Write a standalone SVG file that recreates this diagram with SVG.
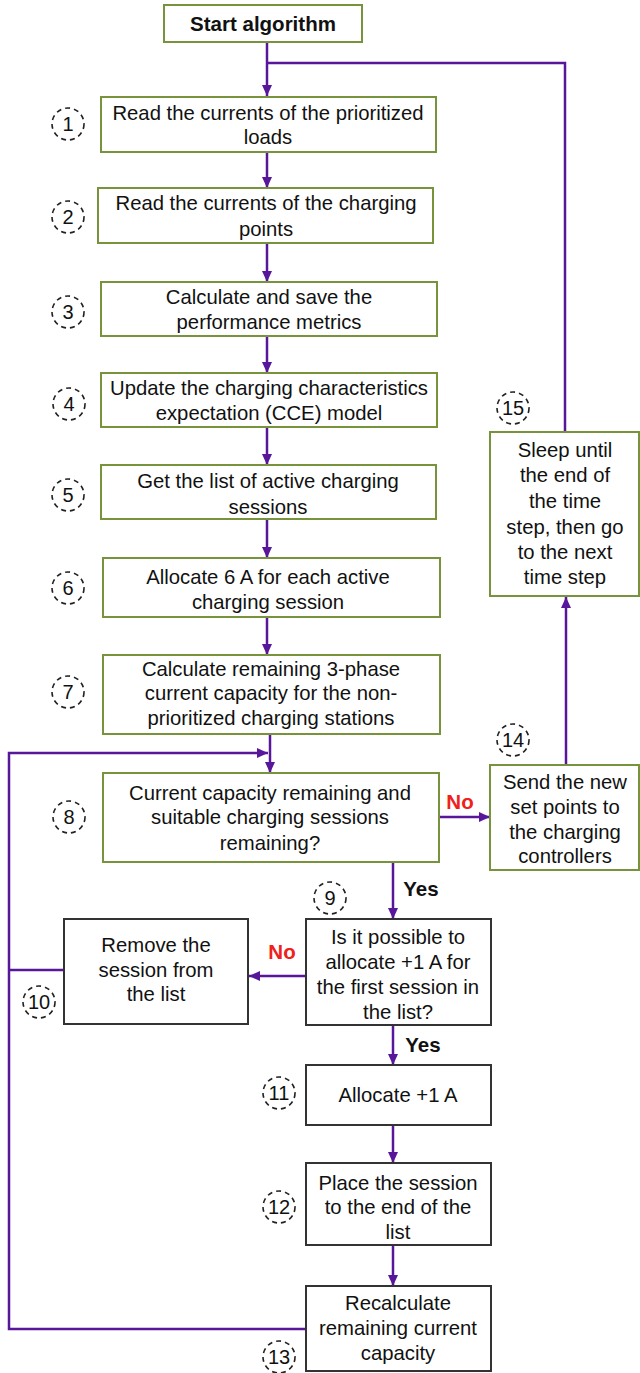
<svg xmlns="http://www.w3.org/2000/svg" width="640" height="1373" viewBox="0 0 640 1373">
<style>
.g{fill:#fff;stroke:#77933C;stroke-width:2}
.k{fill:#fff;stroke:#333;stroke-width:2}
.t{font-family:"Liberation Sans",Arial,sans-serif;font-size:20.3px;fill:#111;text-anchor:middle}
.b{font-family:"Liberation Sans",Arial,sans-serif;font-size:20.5px;font-weight:bold;fill:#111;text-anchor:middle}
.r{font-family:"Liberation Sans",Arial,sans-serif;font-size:20.5px;font-weight:bold;fill:#F0201A;text-anchor:middle}
.c{fill:none;stroke:#222;stroke-width:1.6;stroke-dasharray:5 4}
.n{font-family:"Liberation Sans",Arial,sans-serif;font-size:20px;fill:#111;text-anchor:middle}
.l{fill:none;stroke:#58179B;stroke-width:2.5}
.a{fill:none;stroke:#58179B;stroke-width:2.5;marker-end:url(#ah)}
</style>
<defs>
<marker id="ah" markerUnits="userSpaceOnUse" markerWidth="12" markerHeight="12" viewBox="0 0 12 12" refX="11" refY="6" orient="auto">
<path d="M0 1 L11 6 L0 11 Z" fill="#58179B"/>
</marker>
</defs>
<g id="connectors">
<path class="a" d="M267 42 V96"/>
<path class="l" d="M267 63 H565 V432"/>
<path class="a" d="M267 152 V188"/>
<path class="a" d="M267 243 V282"/>
<path class="a" d="M267 336 V373"/>
<path class="a" d="M267 427 V465"/>
<path class="a" d="M267 519 V558"/>
<path class="a" d="M267 617 V655"/>
<path class="a" d="M270 734 V773"/>
<path class="a" d="M306 1329 H9 V753 H268"/>
<path class="a" d="M439 817 H490"/>
<path class="a" d="M566 765 V597"/>
<path class="a" d="M393 862 V919"/>
<path class="a" d="M306 976 H249"/>
<path class="l" d="M64 970 H9"/>
<path class="a" d="M393 1025 V1065"/>
<path class="a" d="M393 1125 V1163"/>
<path class="a" d="M393 1245 V1286"/>
</g>
<g id="start">
<rect class="g" x="164" y="5" width="198" height="37"/>
<text class="b" x="263" y="31">Start algorithm</text>
</g>
<g id="n1">
<rect class="g" x="101" y="97" width="335" height="55"/>
<text class="t" x="268" y="120">Read the currents of the prioritized</text>
<text class="t" x="268" y="144">loads</text>
<circle class="c" cx="68" cy="124" r="16"/><text class="n" x="68" y="131">1</text>
</g>
<g id="n2">
<rect class="g" x="98" y="188" width="335" height="55"/>
<text class="t" x="266" y="210">Read the currents of the charging</text>
<text class="t" x="266" y="236">points</text>
<circle class="c" cx="68" cy="217" r="16"/><text class="n" x="68" y="224">2</text>
</g>
<g id="n3">
<rect class="g" x="101" y="282" width="336" height="54"/>
<text class="t" x="269" y="304">Calculate and save the</text>
<text class="t" x="269" y="329">performance metrics</text>
<circle class="c" cx="68" cy="312" r="16"/><text class="n" x="68" y="319">3</text>
</g>
<g id="n4">
<rect class="g" x="101" y="373" width="336" height="54"/>
<text class="t" x="269" y="395">Update the charging characteristics</text>
<text class="t" x="269" y="420">expectation (CCE) model</text>
<circle class="c" cx="69" cy="404" r="16"/><text class="n" x="69" y="411">4</text>
</g>
<g id="n5">
<rect class="g" x="101" y="465" width="335" height="54"/>
<text class="t" x="268" y="488">Get the list of active charging</text>
<text class="t" x="268" y="514">sessions</text>
<circle class="c" cx="68" cy="495" r="16"/><text class="n" x="68" y="502">5</text>
</g>
<g id="n6">
<rect class="g" x="103" y="558" width="337" height="59"/>
<text class="t" x="268" y="584">Allocate 6 A for each active</text>
<text class="t" x="268" y="609">charging session</text>
<circle class="c" cx="68" cy="588" r="16"/><text class="n" x="68" y="595">6</text>
</g>
<g id="n7">
<rect class="g" x="103" y="655" width="337" height="79"/>
<text class="t" x="271" y="676">Calculate remaining 3-phase</text>
<text class="t" x="271" y="700">current capacity for the non-</text>
<text class="t" x="271" y="725">prioritized charging stations</text>
<circle class="c" cx="68" cy="692" r="16"/><text class="n" x="68" y="699">7</text>
</g>
<g id="n8">
<rect class="g" x="103" y="773" width="336" height="89"/>
<text class="t" x="270" y="800">Current capacity remaining and</text>
<text class="t" x="270" y="824">suitable charging sessions</text>
<text class="t" x="270" y="850">remaining?</text>
<circle class="c" cx="69" cy="817" r="16"/><text class="n" x="69" y="824">8</text>
<text class="r" x="460" y="809">No</text>
<text class="b" x="421" y="896">Yes</text>
</g>
<g id="n14">
<rect class="g" x="490" y="765" width="149" height="105"/>
<text class="t" x="565" y="789">Send the new</text>
<text class="t" x="565" y="814">set points to</text>
<text class="t" x="565" y="839">the charging</text>
<text class="t" x="565" y="863">controllers</text>
<circle class="c" cx="513" cy="740" r="16"/><text class="n" x="513" y="747">14</text>
</g>
<g id="n15">
<rect class="g" x="490" y="432" width="149" height="164"/>
<text class="t" x="565" y="457">Sleep until</text>
<text class="t" x="565" y="482">the end of</text>
<text class="t" x="565" y="508">the time</text>
<text class="t" x="565" y="534">step, then go</text>
<text class="t" x="565" y="559">to the next</text>
<text class="t" x="565" y="584">time step</text>
<circle class="c" cx="513" cy="408" r="16"/><text class="n" x="513" y="415">15</text>
</g>
<g id="n9">
<rect class="k" x="306" y="919" width="185" height="106"/>
<text class="t" x="398" y="944">Is it possible to</text>
<text class="t" x="398" y="969">allocate +1 A for</text>
<text class="t" x="398" y="994">the first session in</text>
<text class="t" x="398" y="1019">the list?</text>
<circle class="c" cx="330" cy="898" r="16"/><text class="n" x="330" y="905">9</text>
<text class="r" x="282" y="959">No</text>
<text class="b" x="423" y="1052">Yes</text>
</g>
<g id="n10">
<rect class="k" x="64" y="919" width="184" height="105"/>
<text class="t" x="156" y="952">Remove the</text>
<text class="t" x="156" y="977">session from</text>
<text class="t" x="156" y="1001">the list</text>
<circle class="c" cx="39" cy="1002" r="16"/><text class="n" x="39" y="1009">10</text>
</g>
<g id="n11">
<rect class="k" x="306" y="1065" width="185" height="60"/>
<text class="t" x="398" y="1102">Allocate +1 A</text>
<circle class="c" cx="279" cy="1093" r="16"/><text class="n" x="279" y="1100">11</text>
</g>
<g id="n12">
<rect class="k" x="306" y="1163" width="185" height="82"/>
<text class="t" x="398" y="1190">Place the session</text>
<text class="t" x="398" y="1214">to the end of the</text>
<text class="t" x="398" y="1239">list</text>
<circle class="c" cx="279" cy="1207" r="16"/><text class="n" x="279" y="1214">12</text>
</g>
<g id="n13">
<rect class="k" x="306" y="1286" width="185" height="85"/>
<text class="t" x="398" y="1310">Recalculate</text>
<text class="t" x="398" y="1335">remaining current</text>
<text class="t" x="398" y="1360">capacity</text>
<circle class="c" cx="279" cy="1357" r="16"/><text class="n" x="279" y="1364">13</text>
</g>
</svg>
